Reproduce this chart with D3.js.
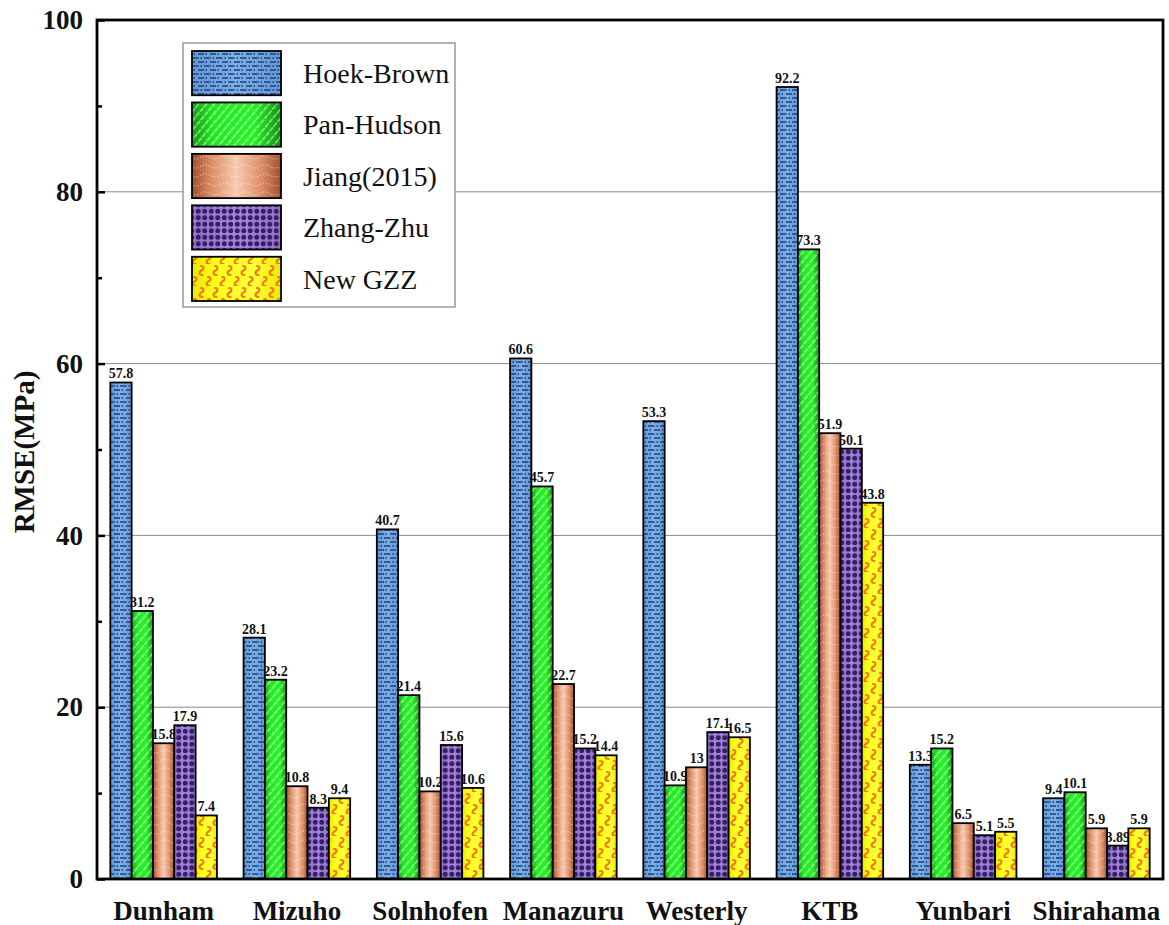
<!DOCTYPE html>
<html><head><meta charset="utf-8">
<script src="https://cdn.jsdelivr.net/npm/d3@7"></script>
<style>html,body{margin:0;padding:0;background:#fff;}</style>
</head><body><svg id="c" width="1169" height="925"></svg>
<script>
const categories = ["Dunham","Mizuho","Solnhofen","Manazuru","Westerly","KTB","Yunbari","Shirahama"];
const seriesNames = ["Hoek-Brown","Pan-Hudson","Jiang(2015)","Zhang-Zhu","New GZZ"];
const hoekBrown = [57.8, 28.1, 40.7, 60.6, 53.3, 92.2, 13.3, 9.4];
const panHudson = [31.2, 23.2, 21.4, 45.7, 10.9, 73.3, 15.2, 10.1];
const jiang2015 = [15.8, 10.8, 10.2, 22.7, 13, 51.9, 6.5, 5.9];
const zhangZhu  = [17.9, 8.3, 15.6, 15.2, 17.1, 50.1, 5.1, 3.89];
const newGZZ    = [7.4, 9.4, 10.6, 14.4, 16.5, 43.8, 5.5, 5.9];
const seriesValues = [hoekBrown, panHudson, jiang2015, zhangZhu, newGZZ];
const yMajorTicks = [0, 20, 40, 60, 80, 100];
const yMinorTicks = [10, 30, 50, 70, 90];
const yTitle = "RMSE(MPa)";

const FONT = "Liberation Serif, Times New Roman, serif";
const svg = d3.select("#c");
const L = 97, R = 1163, T = 20, B = 879;

const x0 = d3.scaleBand().domain(categories).range([L, R]).paddingInner(0.2).paddingOuter(0.1);
const x1 = d3.scaleBand().domain(seriesNames).range([0, x0.bandwidth()]).padding(0);
const y = d3.scaleLinear().domain([0, 100]).range([B, T]);

// ---------- defs: gradients and patterns ----------
const defs = svg.append("defs");
function hGrad(id, stops) {
  const g = defs.append("linearGradient").attr("id", id).attr("x1", 0).attr("x2", 1).attr("y1", 0).attr("y2", 0);
  stops.forEach(s => g.append("stop").attr("offset", s[0]).attr("stop-color", s[1]));
}
hGrad("gBlue",  [[0,"#5e9ad3"],[0.5,"#78b3e6"],[1,"#5e9ad3"]]);
hGrad("gGreen", [[0,"#0f9e10"],[0.25,"#22ea22"],[0.7,"#26f226"],[1,"#0d900d"]]);
hGrad("gBrown", [[0,"#a24f2c"],[0.22,"#dd8e68"],[0.5,"#f8cbb0"],[0.78,"#dd8e68"],[1,"#a24f2c"]]);
hGrad("gPurple",[[0,"#9a6fcf"],[0.5,"#ac84de"],[1,"#9a6fcf"]]);
hGrad("gYellow",[[0,"#e8e800"],[0.3,"#ffff1e"],[0.7,"#ffff3a"],[1,"#eaea00"]]);

const NAVY = "#26307a";
let p = defs.append("pattern").attr("id","pBlue").attr("patternUnits","userSpaceOnUse").attr("width",12).attr("height",8);
[[0,6.5,2],[8.5,10,2],[6,12,6],[1.5,3,6]].forEach(a =>
  p.append("line").attr("x1",a[0]).attr("x2",a[1]).attr("y1",a[2]).attr("y2",a[2]).attr("stroke",NAVY).attr("stroke-width",1.4));
p = defs.append("pattern").attr("id","pGreen").attr("patternUnits","userSpaceOnUse").attr("width",6).attr("height",12).attr("patternTransform","rotate(40)");
p.append("line").attr("x1",3).attr("x2",3).attr("y1",0).attr("y2",12).attr("stroke","#ffffff").attr("stroke-opacity",0.8).attr("stroke-width",1.1).attr("stroke-dasharray","5 1");
p = defs.append("pattern").attr("id","pBrown").attr("patternUnits","userSpaceOnUse").attr("width",20).attr("height",9);
p.append("path").attr("d","M0,4.5 Q5,1.5 10,4.5 T20,4.5").attr("fill","none").attr("stroke","#ffffff").attr("stroke-opacity",0.75).attr("stroke-width",1).attr("stroke-dasharray","1 2");
p = defs.append("pattern").attr("id","pPurple").attr("patternUnits","userSpaceOnUse").attr("width",6.5).attr("height",6.5);
p.append("circle").attr("cx",3.25).attr("cy",3.25).attr("r",2.5).attr("fill","#2e2262");
p = defs.append("pattern").attr("id","pYellow").attr("patternUnits","userSpaceOnUse").attr("width",14).attr("height",22);
const sq = "c3,0 3.5,3 0.5,4.5 c-3,1.5 -2.5,4.5 1,4.5";
["M5,2","M12,13","M-2,13"].forEach(m =>
  p.append("path").attr("d", m + sq).attr("fill","none").attr("stroke","#ee7a10").attr("stroke-width",2.1).attr("stroke-linecap","round"));

const fills = [["url(#gBlue)","url(#pBlue)"],["url(#gGreen)","url(#pGreen)"],["url(#gBrown)","url(#pBrown)"],["url(#gPurple)","url(#pPurple)"],["url(#gYellow)","url(#pYellow)"]];

// ---------- gridlines ----------
svg.append("g").selectAll("line").data(yMajorTicks.filter(v => v > 0 && v < 100)).join("line")
  .attr("x1", L).attr("x2", R).attr("y1", d => y(d)).attr("y2", d => y(d))
  .attr("stroke", "#8a8a8a").attr("stroke-width", 1);

// ---------- bars ----------
const barsG = svg.append("g");
seriesNames.forEach((s, si) => {
  const g = barsG.append("g");
  const data = categories.map((c, ci) => ({c, v: seriesValues[si][ci]}));
  const bx = d => x0(d.c) + x1(s);
  g.selectAll("rect.base").data(data).join("rect").attr("class","base")
    .attr("x", bx).attr("y", d => y(d.v)).attr("width", x1.bandwidth()).attr("height", d => y(0) - y(d.v))
    .attr("fill", fills[si][0]);
  g.selectAll("rect.pat").data(data).join("rect").attr("class","pat")
    .attr("x", bx).attr("y", d => y(d.v)).attr("width", x1.bandwidth()).attr("height", d => y(0) - y(d.v))
    .attr("fill", fills[si][1]).attr("stroke", "#000").attr("stroke-width", 1.8);
  g.selectAll("text").data(data).join("text")
    .attr("x", d => bx(d) + x1.bandwidth() / 2).attr("y", d => y(d.v) - 4)
    .attr("text-anchor", "middle").attr("font-family", FONT).attr("font-weight", "bold").attr("font-size", 14)
    .attr("fill", "#111").text(d => String(d.v));
});

// ---------- axes ----------
const yAxis = d3.axisLeft(y).tickValues(yMajorTicks).tickSizeInner(-8).tickSizeOuter(0).tickPadding(14).tickFormat(d3.format("d"));
const ya = svg.append("g").attr("transform", `translate(${L},0)`).call(yAxis);
ya.select(".domain").remove();
ya.selectAll(".tick line").attr("stroke", "#000").attr("stroke-width", 2.5);
ya.selectAll(".tick text").attr("font-family", FONT).attr("font-weight", "bold").attr("font-size", 27).attr("fill", "#111");
const yMinor = d3.axisLeft(y).tickValues(yMinorTicks).tickSizeInner(-5).tickSizeOuter(0).tickFormat("");
const ym = svg.append("g").attr("transform", `translate(${L},0)`).call(yMinor);
ym.select(".domain").remove();
ym.selectAll(".tick line").attr("stroke", "#000").attr("stroke-width", 2.5);

const xAxis = d3.axisBottom(x0).tickSize(0).tickPadding(22);
const xa = svg.append("g").attr("transform", `translate(0,${B})`).call(xAxis);
xa.select(".domain").remove();
xa.selectAll(".tick text").attr("font-family", FONT).attr("font-weight", "bold").attr("font-size", 27).attr("fill", "#111");

// frame
svg.append("rect").attr("x", L).attr("y", T).attr("width", R - L).attr("height", B - T)
  .attr("fill", "none").attr("stroke", "#000").attr("stroke-width", 2.8);

// y title
svg.append("text").attr("transform", `translate(34,452) rotate(-90)`)
  .attr("text-anchor", "middle").attr("font-family", FONT).attr("font-weight", "bold").attr("font-size", 29)
  .attr("fill", "#111").text(yTitle);

// ---------- legend ----------
const lg = svg.append("g");
lg.append("rect").attr("x", 183).attr("y", 43).attr("width", 272).attr("height", 264)
  .attr("fill", "#fff").attr("stroke", "#9a9a9a").attr("stroke-width", 1.5);
const ly = d3.scaleBand().domain(seriesNames).range([51, 301]).paddingInner(0.14);
seriesNames.forEach((s, si) => {
  lg.append("rect").attr("x", 192).attr("y", ly(s)).attr("width", 89).attr("height", ly.bandwidth()).attr("fill", fills[si][0]);
  lg.append("rect").attr("x", 192).attr("y", ly(s)).attr("width", 89).attr("height", ly.bandwidth())
    .attr("fill", fills[si][1]).attr("stroke", "#000").attr("stroke-width", 1.8);
  lg.append("text").attr("x", 303).attr("y", ly(s) + ly.bandwidth() / 2).attr("dy", "0.35em")
    .attr("font-family", FONT).attr("font-size", 28).attr("fill", "#111").text(s);
});
</script></body></html>
